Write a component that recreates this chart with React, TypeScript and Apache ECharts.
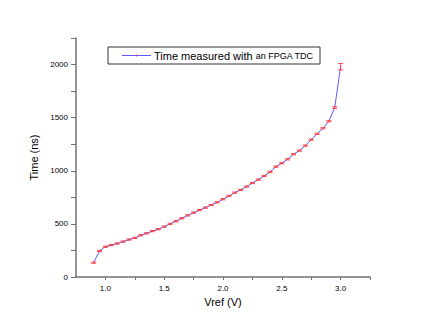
import React, { useEffect, useRef } from "react";
import * as echarts from "echarts";

const vref: number[] = [
  0.9, 0.95, 1.0, 1.05, 1.1, 1.15, 1.2, 1.25, 1.3, 1.35, 1.4, 1.45, 1.5, 1.55,
  1.6, 1.65, 1.7, 1.75, 1.8, 1.85, 1.9, 1.95, 2.0, 2.05, 2.1, 2.15, 2.2, 2.25,
  2.3, 2.35, 2.4, 2.45, 2.5, 2.55, 2.6, 2.65, 2.7, 2.75, 2.8, 2.85, 2.9, 2.95, 3.0,
];
const timeNs: number[] = [
  135, 245, 285, 300, 315, 333, 352, 368, 392, 411, 432, 450, 474, 500,
  525, 553, 580, 605, 630, 653, 678, 703, 732, 763, 794, 820, 851, 885,
  917, 951, 989, 1039, 1071, 1108, 1156, 1190, 1237, 1293, 1348, 1400, 1466, 1595, 1980,
];
const errNs: number[] = [
  6, 6, 6, 6, 6, 6, 6, 6, 6, 6, 6, 6, 6, 6,
  6, 6, 6, 6, 6, 6, 6, 6, 6, 6, 6, 6, 6, 6,
  6, 6, 6, 6, 6, 6, 6, 6, 6, 6, 6, 6, 6, 8, 30,
];
const xTickValues: number[] = [1.0, 1.25, 1.5, 1.75, 2.0, 2.25, 2.5, 2.75, 3.0, 3.25];
const xLabelValues: number[] = [1.0, 1.5, 2.0, 2.5, 3.0];
const yTickValues: number[] = [0, 250, 500, 750, 1000, 1250, 1500, 1750, 2000, 2250];
const yLabelValues: number[] = [0, 500, 1000, 1500, 2000];

const FONT = "'Liberation Sans', Arial, Helvetica, sans-serif";
const AXIS_COLOR = "#707070";
const LINE_COLOR = "#5c5cff";
const ERR_COLOR = "#ff3030";

export default function App() {
  const ref = useRef<HTMLDivElement>(null);
  useEffect(() => {
    if (!ref.current) return;
    const chart = echarts.init(ref.current, undefined, { renderer: "svg" });
    const lineData = vref.map((v, i) => [v, timeNs[i]]);
    const errData = vref.map((v, i) => [v, timeNs[i], errNs[i]]);
    chart.setOption({
      animation: false,
      backgroundColor: "#ffffff",
      textStyle: { fontFamily: FONT },
      grid: { left: 76, right: 60, top: 38, bottom: 55, containLabel: false },
      xAxis: {
        type: "value",
        min: 0.75,
        max: 3.25,
        name: "Vref (V)",
        nameLocation: "middle",
        nameGap: 15,
        nameTextStyle: { fontSize: 11, color: "#000", fontFamily: FONT, verticalAlign: "top" },
        axisLine: { show: true, onZero: false, lineStyle: { color: AXIS_COLOR, width: 1.5 } },
        axisTick: { show: true, inside: false, length: 3, customValues: xTickValues, lineStyle: { color: AXIS_COLOR, width: 1 } },
        axisLabel: {
          show: true,
          customValues: xLabelValues,
          fontSize: 8,
          color: "#000",
          margin: 7,
          fontFamily: FONT,
          formatter: (v: number) => Number(v).toFixed(1),
        },
        splitLine: { show: false },
      },
      yAxis: {
        type: "value",
        min: 0,
        max: 2250,
        name: "Time (ns)",
        nameLocation: "middle",
        nameGap: 34,
        nameTextStyle: { fontSize: 11, color: "#000", fontFamily: FONT },
        axisLine: { show: true, onZero: false, lineStyle: { color: AXIS_COLOR, width: 1.5 } },
        axisTick: { show: true, inside: false, length: 5, customValues: yTickValues, lineStyle: { color: AXIS_COLOR, width: 1 } },
        axisLabel: {
          show: true,
          customValues: yLabelValues,
          fontSize: 8,
          color: "#000",
          margin: 8,
          fontFamily: FONT,
          formatter: (v: number) => String(Math.round(Number(v))),
        },
        splitLine: { show: false },
      },
      series: [
        {
          type: "line",
          data: lineData,
          showSymbol: false,
          symbol: "none",
          lineStyle: { color: LINE_COLOR, width: 1 },
          z: 2,
        },
        {
          type: "custom",
          data: errData,
          z: 3,
          renderItem: (params: any, api: any) => {
            const x = api.value(0);
            const y = api.value(1);
            const e = api.value(2);
            const top = api.coord([x, y + e]);
            const bot = api.coord([x, y - e]);
            const hw = 2.5;
            const st = { stroke: ERR_COLOR, lineWidth: 1, opacity: 0.85 };
            return {
              type: "group",
              children: [
                { type: "line", shape: { x1: top[0], y1: top[1], x2: bot[0], y2: bot[1] }, style: st },
                { type: "line", shape: { x1: top[0] - hw, y1: top[1], x2: top[0] + hw, y2: top[1] }, style: st },
                { type: "line", shape: { x1: bot[0] - hw, y1: bot[1], x2: bot[0] + hw, y2: bot[1] }, style: st },
              ],
            };
          },
        },
      ],
      graphic: [
        {
          type: "rect",
          shape: { x: 108, y: 47, width: 212, height: 17 },
          style: { fill: "#ffffff", stroke: "#333333", lineWidth: 1 },
          z: 10,
        },
        {
          type: "line",
          shape: { x1: 122, y1: 55.5, x2: 151, y2: 55.5 },
          style: { stroke: LINE_COLOR, lineWidth: 1 },
          z: 11,
        },
        {
          type: "rect",
          shape: { x: 136, y: 54.5, width: 1, height: 2 },
          style: { fill: ERR_COLOR },
          z: 12,
        },
        {
          type: "text",
          x: 154,
          y: 56,
          z: 12,
          style: {
            text: "{a|Time measured with }{b|an FPGA TDC}",
            verticalAlign: "middle",
            fill: "#000",
            rich: {
              a: { fontSize: 11, fontFamily: FONT, fill: "#000" },
              b: { fontSize: 9, fontFamily: FONT, fill: "#000" },
            },
          },
        },
      ],
    });
    return () => chart.dispose();
  }, []);
  return (
    <div
      ref={ref}
      style={{ position: "fixed", left: 0, top: 0, width: 430, height: 332 }}
    />
  );
}
